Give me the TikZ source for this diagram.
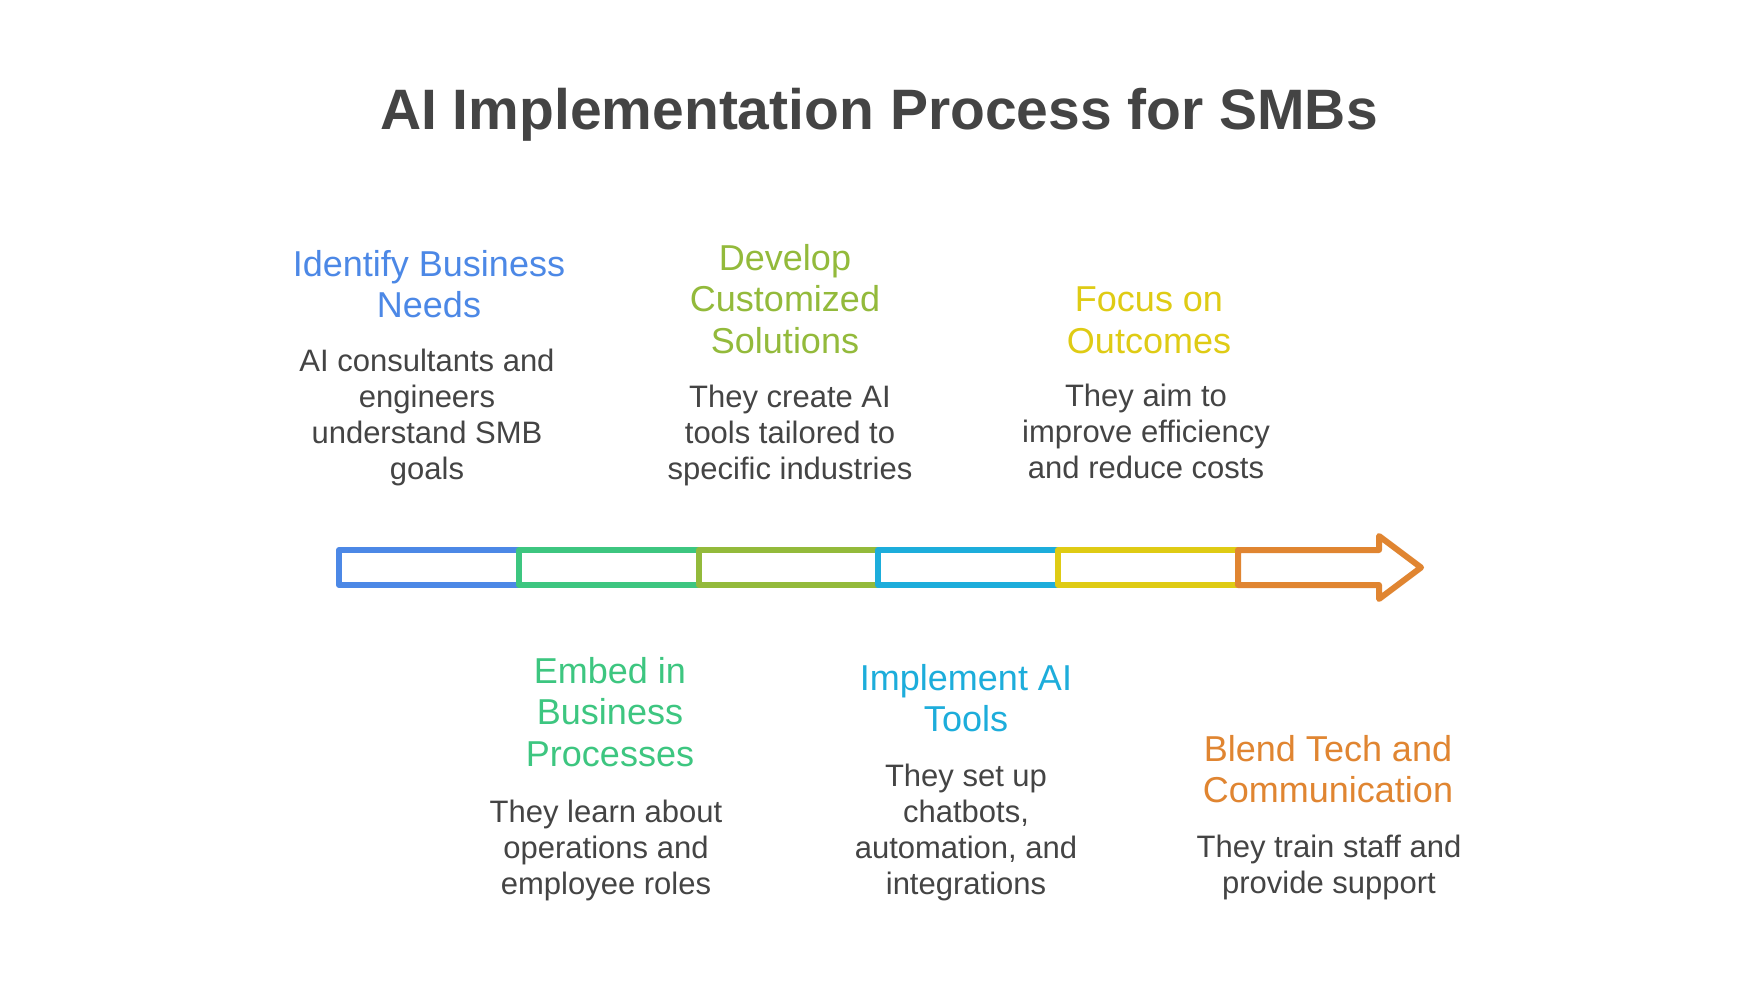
\documentclass[tikz,border=0pt]{standalone}
\usepackage{fontspec}
\setmainfont{Liberation Sans}
\definecolor{cblue}{HTML}{4C88E6}
\definecolor{cgreen}{HTML}{3DC680}
\definecolor{colive}{HTML}{93BA3B}
\definecolor{ccyan}{HTML}{1DADDB}
\definecolor{cyellow}{HTML}{DFCB14}
\definecolor{corange}{HTML}{E08531}
\definecolor{ctext}{HTML}{444444}
\begin{document}
\begin{tikzpicture}[x=1pt,y=-1pt,
  head/.style={align=center,inner sep=0pt,font=\fontsize{36}{41.6}\selectfont},
  body/.style={align=center,inner sep=0pt,text=ctext,font=\fontsize{31}{36}\selectfont},
  seg/.style={line width=6pt,line join=round,line cap=round}]
\useasboundingbox[fill=white] (0,0) rectangle (1761,990);
\node[inner sep=0pt,text=ctext,font=\fontsize{57}{66}\selectfont\bfseries] (title) at (879,115) {AI Implementation Process for SMBs};
% bar
\draw[seg,cblue] (339,550) rectangle (519,585);
\draw[seg,cgreen] (519,550) rectangle (699,585);
\draw[seg,colive] (699,550) rectangle (878,585);
\draw[seg,ccyan] (878,550) rectangle (1058,585);
\draw[seg,cyellow] (1058,550) rectangle (1238,585);
\draw[seg,corange] (1238,550) -- (1379,550) -- (1379,536) -- (1421,567.5) -- (1379,599) -- (1379,585) -- (1238,585) -- cycle;
% top texts
\node[head,text=cblue] (h1) at (429,284) {Identify Business\\Needs};
\node[body] (b1) at (427,417) {AI consultants and\\engineers\\understand SMB\\goals};
\node[head,text=colive] (h3) at (785,299) {Develop\\Customized\\Solutions};
\node[body] (b3) at (790,435) {They create AI\\tools tailored to\\specific industries};
\node[head,text=cyellow] (h5) at (1149,320) {Focus on\\Outcomes};
\node[body] (b5) at (1146,431) {They aim to\\improve efficiency\\and reduce costs};
% bottom texts
\node[head,text=cgreen] (h2) at (610,712) {Embed in\\Business\\Processes};
\node[body] (b2) at (606,850) {They learn about\\operations and\\employee roles};
\node[head,text=ccyan] (h4) at (966,698) {Implement AI\\Tools};
\node[body] (b4) at (966,832) {They set up\\chatbots,\\automation, and\\integrations};
\node[head,text=corange] (h6) at (1328,769) {Blend Tech and\\Communication};
\node[body] (b6) at (1329,867) {They train staff and\\provide support};
\end{tikzpicture}
\end{document}
